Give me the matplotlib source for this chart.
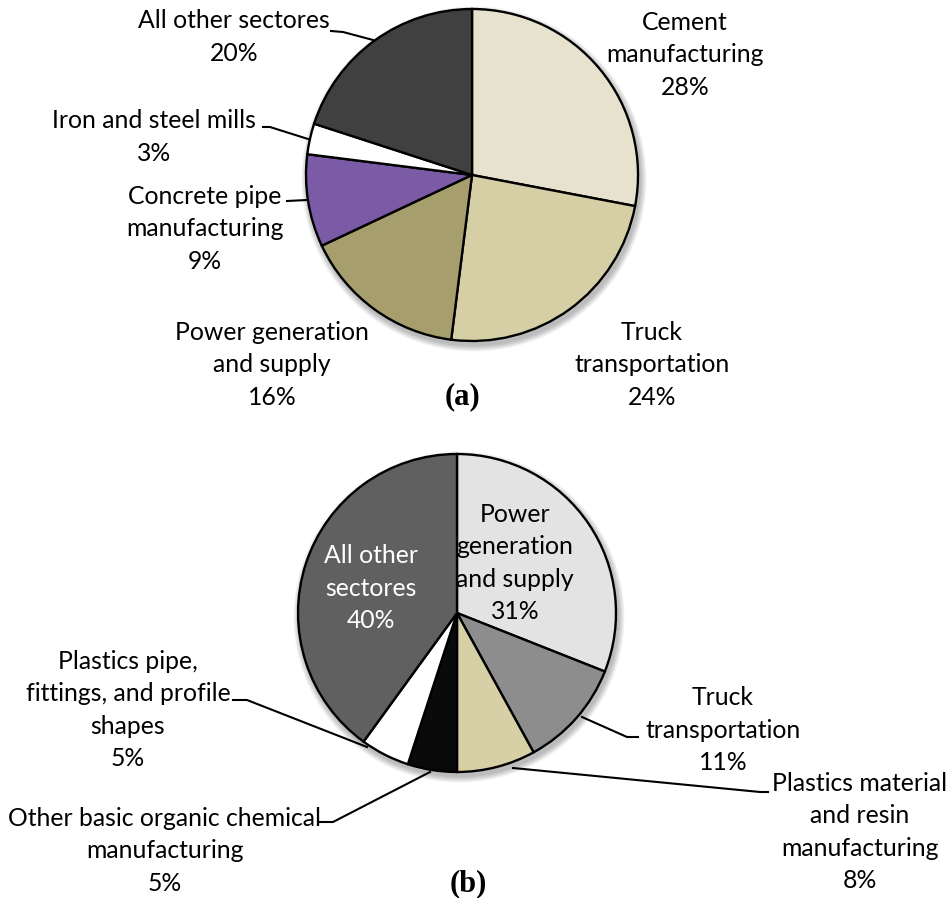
import matplotlib.pyplot as plt
from matplotlib.patches import Circle

# data
labels_a = ['Cement\nmanufacturing', 'Truck\ntransportation', 'Power generation\nand supply',
            'Concrete pipe\nmanufacturing', 'Iron and steel mills', 'All other sectores']
values_a = [28, 24, 16, 9, 3, 20]
colors_a = ['#e7e2cd', '#d6cfa6', '#a69e6c', '#7b5aa6', '#ffffff', '#404040']

labels_b = ['Power\ngeneration\nand supply', 'Truck\ntransportation', 'Plastics material\nand resin\nmanufacturing',
            'Other basic organic chemical\nmanufacturing', 'Plastics pipe,\nfittings, and profile\nshapes',
            'All other\nsectores']
values_b = [31, 11, 8, 5, 5, 40]
colors_b = ['#e3e3e3', '#8d8d8d', '#d7cfa6', '#0a0a0a', '#ffffff', '#606060']

W, H = 951, 898

plt.rcParams['font.family'] = ['Lato', 'DejaVu Sans']
fig = plt.figure(figsize=(W / 100, H / 100), dpi=100)
ax = fig.add_axes([0, 0, 1, 1])


def Y(y):
    # picture rows count from the top
    return H - y


def shadow(cx, cy, r):
    for i in range(8):
        ax.add_patch(Circle((cx + 2, Y(cy) - 4), r + 1 + i * 0.8, color='black',
                            alpha=0.035, lw=0, zorder=0))


def draw_pie(vals, cols, cx, cy, r, explode=None):
    shadow(cx, cy, r)
    ax.pie(vals, colors=cols, center=(cx, Y(cy)), radius=r, startangle=90,
           counterclock=False, explode=explode, frame=True,
           wedgeprops=dict(edgecolor='black', linewidth=1.7))


FS = 17.8
LS = 1.5

def label(txt, x, y, color='black'):
    ax.text(x, Y(y), txt, ha='center', va='center', fontsize=FS, linespacing=LS, color=color)


def leader(xs, ys):
    ax.plot(xs, [Y(v) for v in ys], color='black', lw=1.5, zorder=5)


# (a)
draw_pie(values_a, colors_a, 472, 175, 166, explode=[0.02, 0, 0, 0, 0, 0])

label(labels_a[0] + '\n%d%%' % values_a[0], 685, 55)
label(labels_a[1] + '\n%d%%' % values_a[1], 652, 365)
label(labels_a[2] + '\n%d%%' % values_a[2], 272, 365)
label(labels_a[3] + '\n%d%%' % values_a[3], 205, 229)
label(labels_a[4] + '\n%d%%' % values_a[4], 154, 137)
label(labels_a[5] + '\n%d%%' % values_a[5], 234, 37)

leader([331, 343, 373], [31, 32, 40])
leader([263, 270, 308], [127, 127, 139])
leader([287, 307], [201, 200])

ax.text(462, Y(397), '(a)', ha='center', va='center', fontsize=22, fontweight='bold',
        family='Liberation Serif')

# (b)
draw_pie(values_b, colors_b, 457, 613, 159)

label(labels_b[0] + '\n%d%%' % values_b[0], 515, 563)
label(labels_b[1] + '\n%d%%' % values_b[1], 723, 730)
label(labels_b[2] + '\n%d%%' % values_b[2], 860, 832)
label(labels_b[3] + '\n%d%%' % values_b[3], 165, 851)
label(labels_b[4] + '\n%d%%' % values_b[4], 128, 710)
label(labels_b[5] + '\n%d%%' % values_b[5], 371, 588, color='white')

leader([582, 627, 638], [717, 737, 737])
leader([513, 760, 768], [768, 792, 792])
leader([233, 247, 367], [700, 700, 747])
leader([320, 333, 430], [822, 822, 772])

ax.text(468, Y(884), '(b)', ha='center', va='center', fontsize=22, fontweight='bold',
        family='Liberation Serif')

ax.set_xlim(0, W)
ax.set_ylim(0, H)
ax.set_aspect('equal')
ax.axis('off')

fig.savefig('out.png', dpi=100)
